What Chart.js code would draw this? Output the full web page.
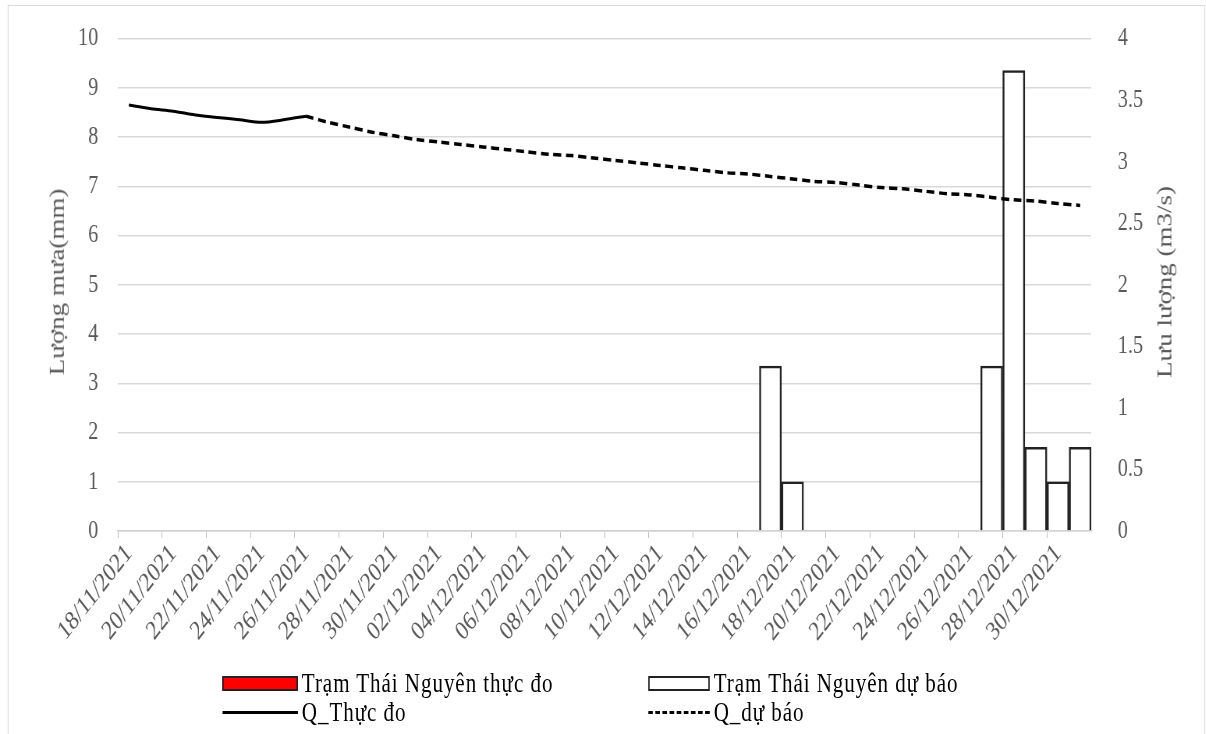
<!DOCTYPE html>
<html>
<head>
<meta charset="utf-8">
<script src="https://cdn.jsdelivr.net/npm/chart.js@4"></script>
<style>
  body { margin: 0; background: #fff; overflow: hidden; }
  /* the source picture is squeezed horizontally, so draw wide and squeeze */
  #wrap { position: relative; width: 1546px; height: 734px; overflow: hidden; transform: scaleX(0.78); transform-origin: 0 0; }
  #frame { position: absolute; left: 10px; top: 5px; width: 1535px; height: 740px; border: 1px solid #d9d9d9; box-sizing: border-box; }
  canvas { position: absolute; left: 0; top: -11px; }
  .leg { position: absolute; font-family: "Liberation Serif", serif; font-size: 27px; color: #000; white-space: nowrap; line-height: 28px; letter-spacing: 1.2px; }
  .sym { position: absolute; }
  .ytitle { position: absolute; font-family: "Liberation Serif", serif; font-size: 27px; color: #595959; white-space: nowrap;
            transform: translate(-50%, -50%) rotate(-90deg); }
</style>
</head>
<body>
<div id="wrap">
  <div id="frame"></div>
  <canvas id="chart" width="1546" height="745"></canvas>
  <div class="ytitle" style="left:73px;top:282px;">Lượng mưa(mm)</div>
  <div class="ytitle" style="left:1493px;top:282px;">Lưu lượng (m3/s)</div>
  <div class="sym" style="left:285px;top:676px;width:97px;height:15px;background:#ff0000;border:2px solid #222;box-sizing:border-box;"></div>
  <div class="leg" style="left:387px;top:669px;">Trạm Thái Nguyên thực đo</div>
  <div class="sym" style="left:831px;top:676px;width:79px;height:15px;background:#fff;border:2px solid #222;box-sizing:border-box;"></div>
  <div class="leg" style="left:915px;top:669px;">Trạm Thái Nguyên dự báo</div>
  <div class="sym" style="left:285px;top:711px;width:97px;height:0;border-top:3px solid #000;"></div>
  <div class="leg" style="left:387px;top:698px;">Q_Thực đo</div>
  <div class="sym" style="left:831px;top:711px;width:79px;height:0;border-top:3px dashed #000;"></div>
  <div class="leg" style="left:915px;top:698px;">Q_dự báo</div>
</div>
<script>
// categories: daily 18/11/2021 .. 31/12/2021
const dates = [
  "18/11/2021", "19/11/2021", "20/11/2021", "21/11/2021", "22/11/2021", "23/11/2021",
  "24/11/2021", "25/11/2021", "26/11/2021", "27/11/2021", "28/11/2021", "29/11/2021",
  "30/11/2021", "01/12/2021", "02/12/2021", "03/12/2021", "04/12/2021", "05/12/2021",
  "06/12/2021", "07/12/2021", "08/12/2021", "09/12/2021", "10/12/2021", "11/12/2021",
  "12/12/2021", "13/12/2021", "14/12/2021", "15/12/2021", "16/12/2021", "17/12/2021",
  "18/12/2021", "19/12/2021", "20/12/2021", "21/12/2021", "22/12/2021", "23/12/2021",
  "24/12/2021", "25/12/2021", "26/12/2021", "27/12/2021", "28/12/2021", "29/12/2021",
  "30/12/2021", "31/12/2021"
];

// rainfall (mm) - observed has no values in the period
const rainObserved = new Array(44).fill(null);
const rainForecast = [
  null, null, null, null, null, null, null, null, null, null, null, null,
  null, null, null, null, null, null, null, null, null, null, null, null,
  null, null, null, null, null, 3.35, 1.0, null, null, null, null, null,
  null, null, null, 3.35, 9.35, 1.7, 1.0, 1.7
];

// discharge (m3/s)
const qObserved = [
  3.46, 3.43, 3.41, 3.38, 3.36, 3.34, 3.32, 3.34, 3.37, null, null, null,
  null, null, null, null, null, null, null, null, null, null, null, null,
  null, null, null, null, null, null, null, null, null, null, null, null,
  null, null, null, null, null, null, null, null
];
const qForecast = [
  null, null, null, null, null, null, null, null, 3.37, 3.32, 3.28, 3.24,
  3.21, 3.18, 3.16, 3.14, 3.12, 3.10, 3.08, 3.06, 3.05, 3.03, 3.01, 2.99,
  2.97, 2.95, 2.93, 2.91, 2.90, 2.88, 2.86, 2.84, 2.83, 2.81, 2.79, 2.78,
  2.76, 2.74, 2.73, 2.71, 2.69, 2.68, 2.66, 2.645
];

const axisFont = { family: "Liberation Serif", size: 26 };
const gray = "#595959";

new Chart(document.getElementById("chart"), {
  data: {
    labels: dates,
    datasets: [
      {
        type: "line", label: "Q_Thực đo", data: qObserved, yAxisID: "yQ",
        borderColor: "#000", borderWidth: 3, pointRadius: 0, tension: 0.3, order: 0
      },
      {
        type: "line", label: "Q_dự báo", data: qForecast, yAxisID: "yQ",
        borderColor: "#000", borderWidth: 3.5, borderDash: [10, 6], pointRadius: 0, tension: 0.3, order: 0
      },
      {
        type: "bar", label: "Trạm Thái Nguyên thực đo", data: rainObserved, yAxisID: "yRain",
        backgroundColor: "#ff0000", borderColor: "#222", borderWidth: 2.5, order: 1
      },
      {
        type: "bar", label: "Trạm Thái Nguyên dự báo", data: rainForecast, yAxisID: "yRain",
        backgroundColor: "#ffffff", borderColor: "#222", borderWidth: 2.5, order: 1
      }
    ]
  },
  options: {
    responsive: false,
    animation: false,
    grouped: false,
    categoryPercentage: 1.0,
    barPercentage: 1.0,
    layout: { padding: { left: 10, right: 0, top: 15, bottom: 0 } },
    plugins: { legend: { display: false }, tooltip: { enabled: false } },
    scales: {
      x: {
        offset: true,
        afterFit: s => { s.height = 203; },
        grid: {
          offset: true,
          drawOnChartArea: false,
          tickLength: 7,
          tickColor: c => (c.index % 2 === 0 ? "#bfbfbf" : "transparent")
        },
        border: { color: "#d0d0d0", width: 1.5 },
        ticks: {
          autoSkip: false, maxRotation: 45, minRotation: 45,
          color: gray, font: { family: "Liberation Serif", size: 27 }, padding: 0,
          callback: (v, i) => (i % 2 === 0 ? dates[i] : "")
        }
      },
      yRain: {
        position: "left", min: 0, max: 10,
        afterFit: s => { s.width = 141; },
        ticks: { stepSize: 1, color: gray, font: axisFont, padding: 25 },
        grid: { color: "#d9d9d9", lineWidth: 1.5, drawTicks: false },
        border: { display: false }
      },
      yQ: {
        position: "right", min: 0, max: 4,
        afterFit: s => { s.width = 147; },
        ticks: { stepSize: 0.5, color: gray, font: axisFont, padding: 34, callback: v => String(v) },
        grid: { drawOnChartArea: false, drawTicks: false },
        border: { display: false }
      }
    }
  }
});
</script>
</body>
</html>
